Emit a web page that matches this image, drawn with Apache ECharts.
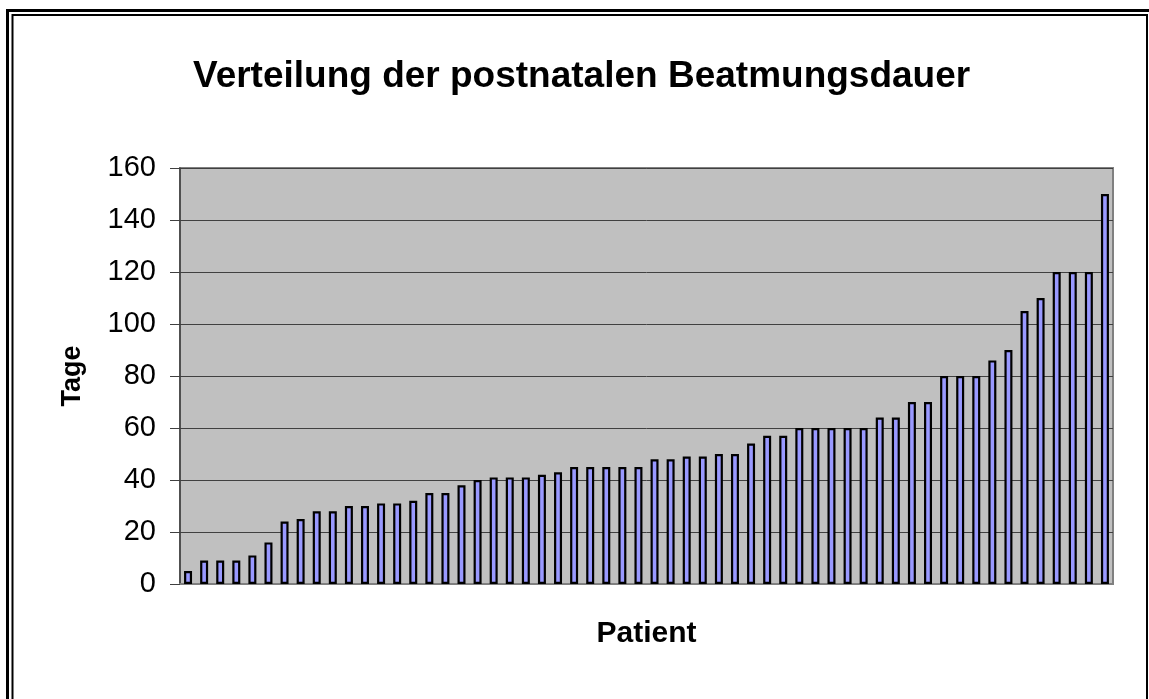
<!DOCTYPE html>
<html>
<head>
<meta charset="utf-8">
<script src="https://cdn.jsdelivr.net/npm/echarts@6/dist/echarts.min.js"></script>
<style>
html,body{margin:0;padding:0;background:#fff;}
#chart{width:1149px;height:699px;}
</style>
</head>
<body>
<div id="chart"></div>
<script>
const titleText = 'Verteilung der postnatalen Beatmungsdauer';
const xAxisName = 'Patient';
const yAxisName = 'Tage';
const patients = Array.from({length: 58}, (_, i) => 'P' + (i + 1));
const tage = [5, 9, 9, 9, 11, 16, 24, 25, 28, 28,
              30, 30, 31, 31, 32, 35, 35, 38, 40, 41,
              41, 41, 42, 43, 45, 45, 45, 45, 45, 48,
              48, 49, 49, 50, 50, 54, 57, 57, 60, 60,
              60, 60, 60, 64, 64, 70, 70, 80, 80, 80,
              86, 90, 105, 110, 120, 120, 120, 150];
const yTicks = {min: 0, max: 160, interval: 20};

const chart = echarts.init(document.getElementById('chart'));
chart.setOption({
  animation: false,
  backgroundColor: '#ffffff',
  textStyle: {fontFamily: 'Liberation Sans, Arial, sans-serif'},
  title: {
    text: titleText,
    left: 193,
    top: 58,
    padding: 0,
    textStyle: {fontSize: 37, fontWeight: 'bold', color: '#000', fontFamily: 'Liberation Sans, Arial, sans-serif'}
  },
  graphic: [
    {type: 'rect', silent: true, shape: {x: 7.5, y: 10.5, width: 1200, height: 800},
     style: {fill: 'none', stroke: '#000', lineWidth: 3}},
    {type: 'rect', silent: true, shape: {x: 12.5, y: 15, width: 1134.5, height: 800},
     style: {fill: 'none', stroke: '#000', lineWidth: 2}}
  ],
  grid: {
    left: 180, right: 36, top: 168, bottom: 115,
    show: true, backgroundColor: '#c0c0c0', borderColor: '#808080', borderWidth: 2
  },
  xAxis: {
    type: 'category',
    data: patients,
    name: xAxisName,
    nameLocation: 'middle',
    nameGap: 35,
    nameTextStyle: {fontSize: 30, fontWeight: 'bold', color: '#000', fontFamily: 'Liberation Sans, Arial, sans-serif'},
    axisLine: {lineStyle: {color: '#808080', width: 2}},
    axisTick: {show: false},
    axisLabel: {show: false},
    splitLine: {show: false}
  },
  yAxis: {
    type: 'value',
    min: yTicks.min, max: yTicks.max, interval: yTicks.interval,
    name: yAxisName,
    nameLocation: 'middle',
    nameRotate: 90,
    nameGap: 94,
    nameTextStyle: {fontSize: 27, fontWeight: 'bold', color: '#000', fontFamily: 'Liberation Sans, Arial, sans-serif'},
    axisLine: {show: true, lineStyle: {color: '#404040', width: 1.5}},
    axisTick: {show: true, inside: false, length: 10, lineStyle: {color: '#404040', width: 1}},
    axisLabel: {margin: 24, fontSize: 29, color: '#000', fontFamily: 'Liberation Sans, Arial, sans-serif'},
    splitLine: {show: true, lineStyle: {color: '#404040', width: 1}}
  },
  series: [{
    type: 'bar',
    data: tage,
    barWidth: 8,
    itemStyle: {color: '#9999ff', borderColor: '#000', borderWidth: 2.2}
  }]
});
</script>
</body>
</html>
